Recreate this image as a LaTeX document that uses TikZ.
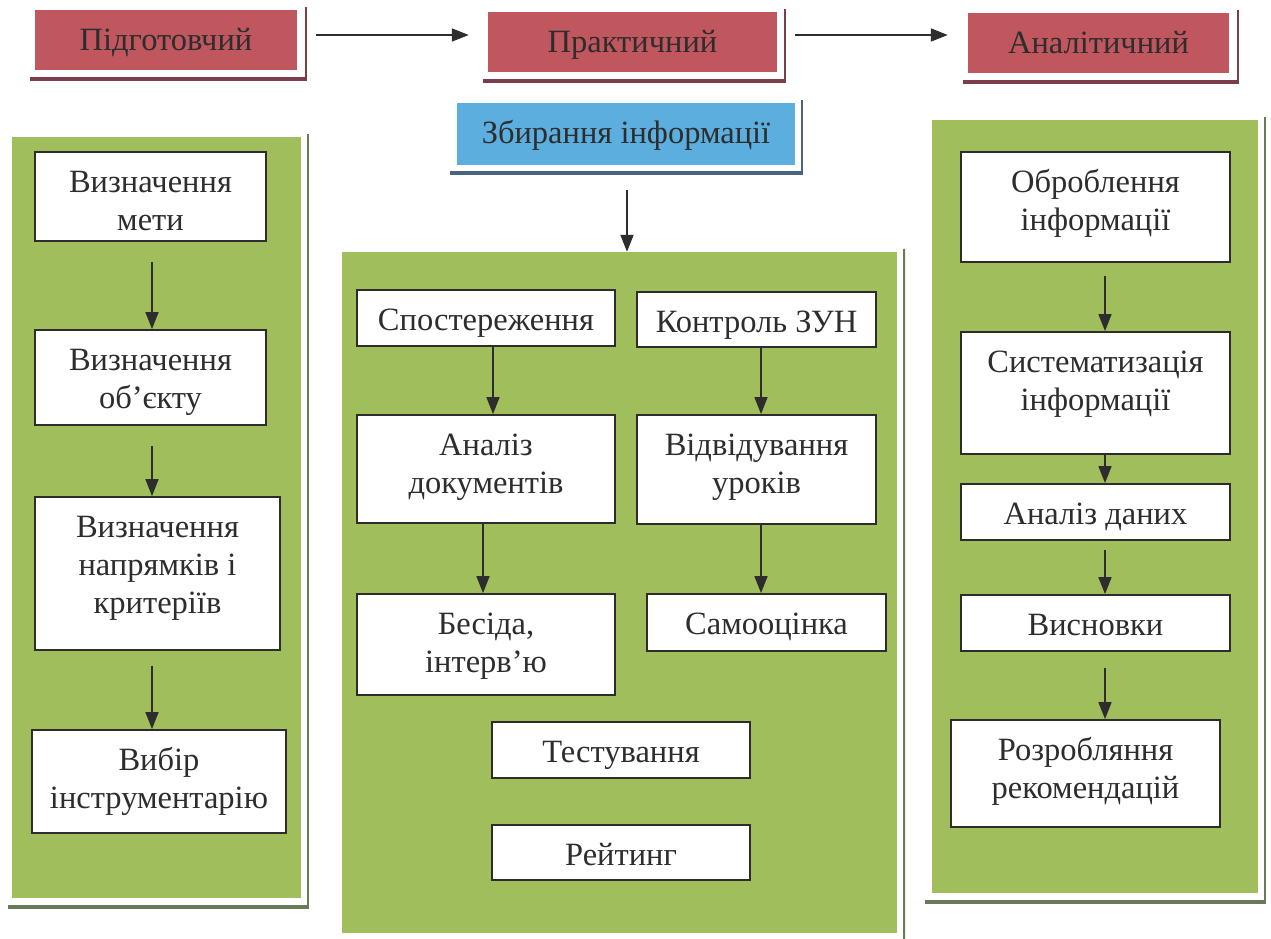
\documentclass[tikz,border=0pt]{standalone}
\usepackage{fontspec}
\setmainfont{Liberation Serif}
\usetikzlibrary{arrows.meta}
\definecolor{hdred}{RGB}{192,86,94}
\definecolor{hdshadow}{RGB}{122,62,74}
\definecolor{infoblue}{RGB}{92,174,222}
\definecolor{blueshadow}{RGB}{72,100,128}
\definecolor{pgreen}{RGB}{160,191,92}
\definecolor{gshadow}{RGB}{104,122,88}
\definecolor{ink}{RGB}{45,45,45}
\newcommand\tl[1]{\begin{tabular}{@{}c@{}}#1\end{tabular}}
\newcommand\hl[1]{\raisebox{-3pt}[\height][\depth]{\tl{#1}}}
\newcommand\dropframe[5]{%
  \draw[#2, line width=2pt] ([shift={(#3,-3)}]#1.north east) -- ([shift={(#3,#4+2)}]#1.south east);
  \draw[#2, line width=3.5pt] ([shift={(-#5,#4)}]#1.south west) -- ([shift={(#3+1,#4)}]#1.south east);}
\begin{document}
\begin{tikzpicture}[x=1pt,y=-1pt,
  txt/.style={font=\fontsize{32.5}{38}\selectfont, text=ink, align=center, inner sep=0pt},
  wbox/.style={draw=ink, line width=1.8pt, fill=white, inner sep=0pt,
    label={[txt, anchor=north, yshift=-15pt]north:{\tl{#1}}}},
  hbox/.style={txt, fill=hdred, minimum height=60pt},
  panel/.style={fill=pgreen, inner sep=0pt},
  arr/.style={draw=ink, line width=1.6pt, -{Triangle[length=17pt,width=13pt]}}]
\useasboundingbox (0,0) rectangle (1271,939);
\fill[white] (0,0) rectangle (1271,939);

% header row
\node[hbox, minimum width=262pt] (h1) at (166,40) {\hl{Підготовчий}};
\node[hbox, minimum width=289pt] (h2) at (632.5,42) {\hl{Практичний}};
\node[hbox, minimum width=261pt] (h3) at (1098.5,43) {\hl{Аналітичний}};
\dropframe{h1}{hdshadow}{9}{9}{5}
\dropframe{h2}{hdshadow}{8}{9}{5}
\dropframe{h3}{hdshadow}{9}{9}{5}
\coordinate (ay) at (0,35);
\draw[arr, shorten <=19pt, shorten >=19pt] (h1.east |- ay) -- (h2.west |- ay);
\draw[arr, shorten <=18pt, shorten >=20pt] (h2.east |- ay) -- (h3.west |- ay);

% blue box
\node[txt, fill=infoblue, minimum width=338pt, minimum height=62pt] (info) at (626,134) {\raisebox{-2pt}[\height][\depth]{\tl{Збирання інформації}}};
\dropframe{info}{blueshadow}{7}{8}{7}

% panels
\node[panel, minimum width=289pt, minimum height=761pt] (lp) at (156.5,517.5) {};
\dropframe{lp}{gshadow}{7}{9}{4}
\node[panel, minimum width=555pt, minimum height=681pt] (mp) at (619.5,592.5) {};
\draw[gshadow, line width=2pt] ([shift={(7,-3)}]mp.north east) -- (904,939);
\node[panel, minimum width=326pt, minimum height=773pt] (rp) at (1095,506.5) {};
\dropframe{rp}{gshadow}{7}{9}{7}

\coordinate (ix) at (627,0);
\draw[arr, shorten <=25pt] (info.south -| ix) -- (mp.north -| ix);

% left column
\node[wbox={Визначення\\мети}, minimum width=231pt, minimum height=89pt] (b1) at (150.5,196.5) {};
\node[wbox={Визначення\\об’єкту}, minimum width=231pt, minimum height=95pt] (b2) at (150.5,377.5) {};
\node[wbox={Визначення\\напрямків і\\критеріїв}, minimum width=245pt, minimum height=153pt] (b3) at (157.5,573.5) {};
\node[wbox={Вибір\\інструментарію}, minimum width=254pt, minimum height=103pt] (b4) at (159,781.5) {};
\coordinate (lx) at (152,0);
\draw[arr, shorten <=20pt] (b1.south -| lx) -- (b2.north -| lx);
\draw[arr, shorten <=20pt] (b2.south -| lx) -- (b3.north -| lx);
\draw[arr, shorten <=15pt] (b3.south -| lx) -- (b4.north -| lx);

% middle column
\node[wbox={Спостереження}, minimum width=258pt, minimum height=56pt] (m1) at (486,318) {};
\node[wbox={Контроль ЗУН}, minimum width=239pt, minimum height=55pt] (m2) at (756.5,319.5) {};
\node[wbox={Аналіз\\документів}, minimum width=258pt, minimum height=108pt] (m3) at (486,469) {};
\node[wbox={Відвідування\\уроків}, minimum width=239pt, minimum height=109pt] (m4) at (756.5,469.5) {};
\node[wbox={Бесіда,\\інтерв’ю}, minimum width=258pt, minimum height=101pt] (m5) at (486,644.5) {};
\node[wbox={Самооцінка}, minimum width=239pt, minimum height=57pt] (m6) at (766.5,622.5) {};
\node[wbox={Тестування}, minimum width=258pt, minimum height=56pt] (m7) at (621,750) {};
\node[wbox={Рейтинг}, minimum width=258pt, minimum height=55pt] (m8) at (621,852.5) {};
\coordinate (ma) at (493,0);
\coordinate (mb) at (483,0);
\coordinate (mc) at (761,0);
\draw[arr] (m1.south -| ma) -- (m3.north -| ma);
\draw[arr] (m3.south -| mb) -- (m5.north -| mb);
\draw[arr] (m2.south -| mc) -- (m4.north -| mc);
\draw[arr] (m4.south -| mc) -- (m6.north -| mc);

% right column
\node[wbox={Оброблення\\інформації}, minimum width=269pt, minimum height=110pt] (r1) at (1095.5,207) {};
\node[wbox={Систематизація\\інформації}, minimum width=269pt, minimum height=122pt] (r2) at (1095.5,393) {};
\node[wbox={Аналіз даних}, minimum width=269pt, minimum height=56pt] (r3) at (1095.5,512) {};
\node[wbox={Висновки}, minimum width=269pt, minimum height=56pt] (r4) at (1095.5,623) {};
\node[wbox={Розробляння\\рекомендацій}, minimum width=269pt, minimum height=107pt] (r5) at (1085.5,773.5) {};
\coordinate (rx) at (1105,0);
\draw[arr, shorten <=13pt] (r1.south -| rx) -- (r2.north -| rx);
\draw[arr] (r2.south -| rx) -- (r3.north -| rx);
\draw[arr, shorten <=9pt] (r3.south -| rx) -- (r4.north -| rx);
\draw[arr, shorten <=16pt] (r4.south -| rx) -- (r5.north -| rx);
\end{tikzpicture}
\end{document}
